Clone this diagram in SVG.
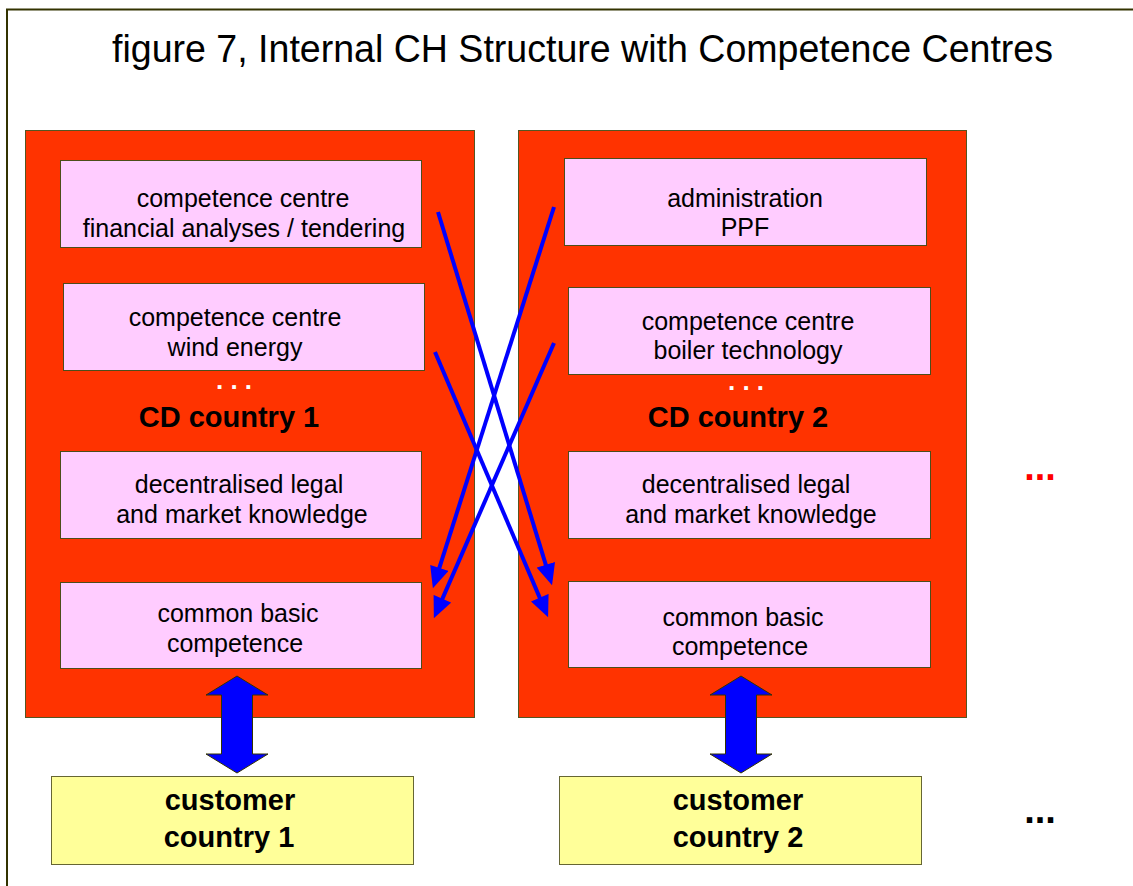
<svg xmlns="http://www.w3.org/2000/svg" width="1133" height="886" viewBox="0 0 1133 886">
  <style>
    .frame { fill: none; stroke: #333300; stroke-width: 2; }
    .cd { fill: #FF3300; stroke: #555522; stroke-width: 1; }
    .cc { fill: #FFCCFF; stroke: #4d4d1a; stroke-width: 1; }
    .cust { fill: #FFFF99; stroke: #666633; stroke-width: 1; }
    text { font-family: "Liberation Sans", Arial, sans-serif; fill: #000; text-anchor: middle; }
    .title { font-size: 38px; }
    .lbl { font-size: 25px; }
    .big { font-size: 29px; font-weight: bold; }
    .dots { font-size: 38px; font-weight: bold; }
    .wdots { font-size: 26px; fill: #fff; font-weight: bold; }
    .link { stroke: #0000FF; stroke-width: 4; fill: none; marker-end: url(#head); }
    .dbl { fill: #0000FF; stroke: #333300; stroke-width: 1; }
  </style>
  <defs>
    <marker id="head" viewBox="0 0 10 9" refX="7.5" refY="4.5" markerWidth="5.5" markerHeight="4.8" orient="auto" markerUnits="strokeWidth">
      <path d="M0,0 L10,4.5 L0,9 z" fill="#0000FF"/>
    </marker>
  </defs>

  <rect width="1133" height="886" fill="#fff"/>
  <path class="frame" d="M7,886 V9.5 H1133"/>

  <text class="title" x="582.5" y="62" textLength="941" lengthAdjust="spacingAndGlyphs">figure 7, Internal CH Structure with Competence Centres</text>

  <!-- country 1 -->
  <g id="cd-country-1">
    <rect class="cd" x="25.5" y="130.5" width="449" height="587"/>
    <text class="wdots" x="234" y="389">. . .</text>
    <text class="big" x="229" y="427">CD country 1</text>
  </g>
  <g id="cc-financial">
    <rect class="cc" x="60.5" y="160.5" width="361" height="87"/>
    <text class="lbl" x="243" y="207">competence centre</text>
    <text class="lbl" x="244" y="237">financial analyses / tendering</text>
  </g>
  <g id="cc-wind">
    <rect class="cc" x="63.5" y="283.5" width="361" height="87"/>
    <text class="lbl" x="235" y="326">competence centre</text>
    <text class="lbl" x="235" y="356">wind energy</text>
  </g>
  <g id="legal-1">
    <rect class="cc" x="60.5" y="451.5" width="361" height="87"/>
    <text class="lbl" x="239" y="493">decentralised legal</text>
    <text class="lbl" x="242" y="523">and market knowledge</text>
  </g>
  <g id="basic-1">
    <rect class="cc" x="60.5" y="582.5" width="361" height="86"/>
    <text class="lbl" x="238" y="622">common basic</text>
    <text class="lbl" x="235" y="652">competence</text>
  </g>

  <!-- country 2 -->
  <g id="cd-country-2">
    <rect class="cd" x="518.5" y="130.5" width="448" height="587"/>
    <text class="wdots" x="746" y="390">. . .</text>
    <text class="big" x="738" y="427">CD country 2</text>
  </g>
  <g id="admin-ppf">
    <rect class="cc" x="564.5" y="158.5" width="362" height="87"/>
    <text class="lbl" x="745" y="207">administration</text>
    <text class="lbl" x="745" y="236">PPF</text>
  </g>
  <g id="cc-boiler">
    <rect class="cc" x="568.5" y="287.5" width="362" height="87"/>
    <text class="lbl" x="748" y="330">competence centre</text>
    <text class="lbl" x="748" y="359">boiler technology</text>
  </g>
  <g id="legal-2">
    <rect class="cc" x="568.5" y="451.5" width="362" height="87"/>
    <text class="lbl" x="746" y="493">decentralised legal</text>
    <text class="lbl" x="751" y="523">and market knowledge</text>
  </g>
  <g id="basic-2">
    <rect class="cc" x="568.5" y="581.5" width="362" height="86"/>
    <text class="lbl" x="743" y="626">common basic</text>
    <text class="lbl" x="740" y="655">competence</text>
  </g>

  <!-- customers -->
  <g id="customer-1">
    <rect class="cust" x="51.5" y="776.5" width="362" height="88"/>
    <text class="big" x="230" y="810">customer</text>
    <text class="big" x="229" y="847">country 1</text>
  </g>
  <g id="customer-2">
    <rect class="cust" x="559.5" y="776.5" width="362" height="88"/>
    <text class="big" x="738" y="810">customer</text>
    <text class="big" x="738" y="847">country 2</text>
  </g>

  <!-- further countries -->
  <g id="more-cd">
    <text class="dots" x="1040" y="480" style="fill:#FF0000">...</text>
  </g>
  <g id="more-customers">
    <text class="dots" x="1040" y="823">...</text>
  </g>

  <!-- connectors -->
  <g id="connectors">
    <line class="link" x1="438" y1="212" x2="550.5" y2="580.2"/>
    <line class="link" x1="435" y1="352" x2="546" y2="612.4"/>
    <line class="link" x1="554" y1="207" x2="434.5" y2="583.2"/>
    <line class="link" x1="554" y1="343" x2="436" y2="613.4"/>
    <polygon class="dbl" points="237,676 268,695 252.5,695 252.5,754 268,754 237,773 206,754 221.5,754 221.5,695 206,695"/>
    <polygon class="dbl" points="741,676 772,695 756.5,695 756.5,754 772,754 741,773 710,754 725.5,754 725.5,695 710,695"/>
  </g>
</svg>
